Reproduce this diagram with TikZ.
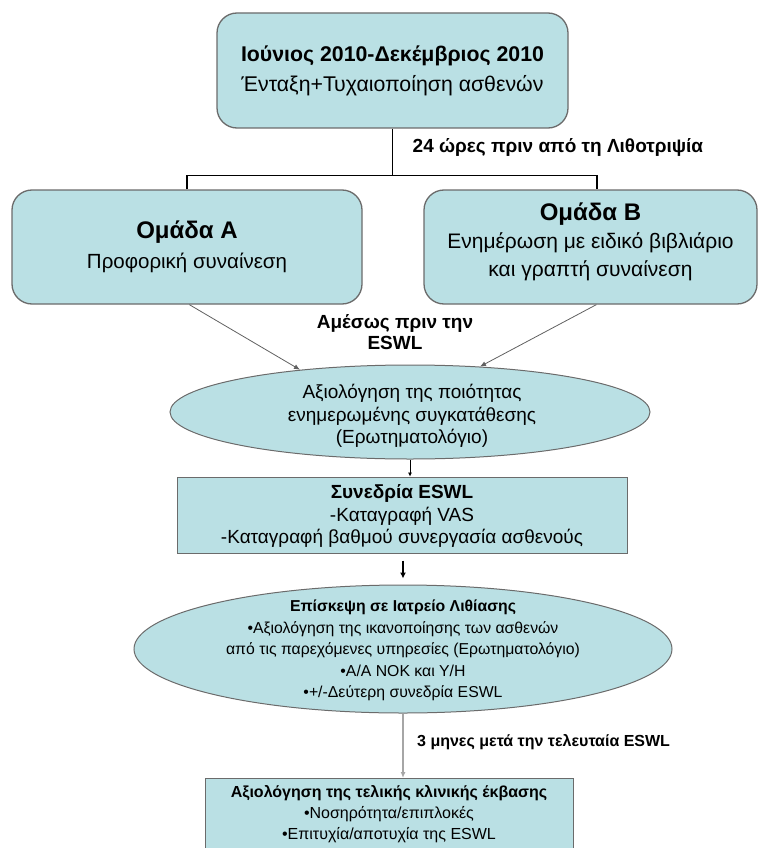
\documentclass[tikz,border=0pt]{standalone}
\usepackage{fontspec}
\setmainfont{Liberation Sans}
\usetikzlibrary{calc}
\usetikzlibrary{arrows.meta}
\usetikzlibrary{shapes.geometric}
\definecolor{boxbg}{HTML}{BAE0E4}
\definecolor{boxedge}{HTML}{6B6B6B}

\begin{document}
\begin{tikzpicture}[x=1pt,y=1pt,
phase/.style = {draw=boxedge, line width=1.3pt, fill=boxbg, rounded corners=20pt, inner sep=0pt},
stage/.style = {draw=boxedge, line width=1pt, fill=boxbg, inner sep=0pt},
check/.style = {ellipse, draw=boxedge, line width=1pt, fill=boxbg, inner sep=0pt},
txt/.style = {align=center, inner sep=0pt},
note/.style = {align=center, inner sep=0pt, font=\bfseries\fontsize{19}{21}\selectfont},
tree/.style = {line width=1.5pt, color=black},
thinarrow/.style = {draw=gray!75!black, line width=0.8pt, -{Latex[length=6pt,width=5pt]}},
blackarrow/.style = {line width=1.2pt, -{Latex[length=6pt,width=6pt]}}
]

\useasboundingbox (0,0) rectangle (762,-848);
\clip (0,0) rectangle (762,-848);

% top: enrolment
\node [phase, minimum width=351, minimum height=115] (top) at (392.5,-70.5) {};
\node [txt, font=\fontsize{21.3}{30}\selectfont] (toptxt) at (top)
  {\textbf{Ιούνιος 2010-Δεκέμβριος 2010}\\Ένταξη+Τυχαιοποίηση ασθενών};

% the two groups
\node [phase, minimum width=350, minimum height=114] (grpA) at (187,-247) {};
\node [txt, font=\fontsize{20.5}{30}\selectfont] (grpAtxt) at (grpA)
  {{\bfseries\fontsize{24}{30}\selectfont Ομάδα Α}\\Προφορική συναίνεση};
\node [phase, minimum width=333, minimum height=114] (grpB) at (590.5,-247) {};
\node [txt, font=\fontsize{21}{28}\selectfont] (grpBtxt) at ($(grpB)+(0,5)$)
  {{\bfseries\fontsize{24}{28}\selectfont Ομάδα Β}\\Ενημέρωση με ειδικό βιβλιάριο\\και γραπτή συναίνεση};

\coordinate (fork) at ($(top.south)+(0,-47)$);
\draw [tree] (top.south) -- (fork);
\draw [tree] (grpA.north) |- (fork) -| ($(grpB.north)+(6.5,0)$);
\node [note, anchor=west] (lbl24) at ($(top.south)+(20,-19)$) {24 ώρες πριν από τη Λιθοτριψία};

% consent questionnaire
\node [check, minimum width=480, minimum height=94] (ell1) at (410,-412) {};
\node [txt, font=\fontsize{19}{22.5}\selectfont] (ell1txt) at ($(ell1)+(2,-4)$)
  {Αξιολόγηση της ποιότητας\\ενημερωμένης συγκατάθεσης\\(Ερωτηματολόγιο)};
\node [note] (lblnow) at (395,-332) {Αμέσως πριν την\\ESWL};
\draw [thinarrow] ($(grpA.south west)+(178,0)$) -- (ell1.159);
\draw [thinarrow] ($(grpB.south west)+(173,0)$) -- (ell1.33);

% ESWL session
\node [stage, minimum width=450, minimum height=76] (sess) at (402,-515) {};
\node [txt, font=\fontsize{19}{22.5}\selectfont] (sesstxt) at ($(sess)+(0,-1)$)
  {\textbf{Συνεδρία ESWL}\\-Καταγραφή VAS\\-Καταγραφή βαθμού συνεργασία ασθενούς};
\draw [thinarrow, line width=0.6pt, draw=black, -{Latex[length=4pt,width=4pt]}]
  (ell1.south) -- (ell1.south |- sess.north);

% clinic visit
\node [check, minimum width=538, minimum height=128] (ell2) at (403,-649) {};
\node [txt, font=\fontsize{15.8}{21.5}\selectfont] (ell2txt) at ($(ell2)+(0,-1.5)$)
  {\textbf{Επίσκεψη σε Ιατρείο Λιθίασης}\\•Αξιολόγηση της ικανοποίησης των ασθενών\\από τις παρεχόμενες υπηρεσίες (Ερωτηματολόγιο)\\•Α/Α ΝΟΚ και Υ/Η\\•+/-Δεύτερη συνεδρία ESWL};
\draw [blackarrow, shorten <=7pt, shorten >=6pt] (sess.south -| ell2.north) -- (ell2.north);

% final outcome
\node [stage, minimum width=368, minimum height=84, anchor=north] (final) at (389,-778) {};
\node [txt, font=\fontsize{16}{21}\selectfont, anchor=north] (finaltxt) at ($(final.north)+(0,-7)$)
  {\textbf{Αξιολόγηση της τελικής κλινικής έκβασης}\\•Νοσηρότητα/επιπλοκές\\•Επιτυχία/αποτυχία της ESWL};
\draw [thinarrow, line width=1.4pt, draw=gray!70] (ell2.south) -- (ell2.south |- final.north);
\node [note, anchor=west, font=\bfseries\fontsize{16}{21}\selectfont] (lbl3m) at (417,-742) {3 μηνες μετά την τελευταία ESWL};

\end{tikzpicture}
\end{document}
